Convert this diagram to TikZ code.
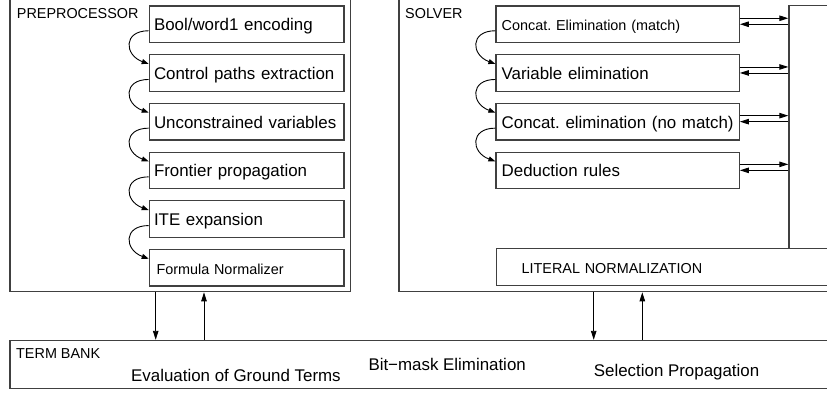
\documentclass[tikz,border=0pt]{standalone}
\usepackage{fontspec}
\setmainfont{Liberation Sans}
\usetikzlibrary{arrows.meta, positioning}
\frenchspacing

\newcommand{\bigtxt}{\fontsize{16.9}{20}\selectfont}
\newcommand{\smalltxt}{\fontsize{14.4}{17}\selectfont}

\begin{document}
\begin{tikzpicture}[
			x=1pt, y=1pt,
			% Frames and boxes
			group/.style={
				rectangle,
				draw=black!75,
				line width=1.2pt,
				anchor=south west,
				inner sep=0pt
			},
			stage/.style={
				rectangle,
				draw=black!75,
				line width=1.2pt,
				minimum height=36.5pt,
				text height=13pt,
				text depth=0pt,
				align=left,
				font=\bigtxt
			},
			prestage/.style={stage, text width=185.3pt, inner xsep=4.7pt},
			solstage/.style={stage, text width=232pt, inner xsep=5.65pt},
			caption/.style={anchor=base west, inner sep=0pt},
			% Arrows
			arrow/.style={
				-{Triangle[length=9pt, width=5.5pt]},
				line width=0.9pt
			},
			handoff/.style={
				-{Triangle[length=7pt, width=5pt]},
				line width=0.9pt,
				out=180, in=160, looseness=2
			}
			]
			
			\useasboundingbox (0,0) rectangle (827,392);
			\clip (0,0) rectangle (827,392);
			
			% Outer frames
			\node[group, minimum width=340.7pt, minimum height=291.8pt] (pre) at (9.3,99.7) {};
			\node[group, minimum width=436.7pt, minimum height=291.8pt] (sol) at (398.3,99.7) {};
			\node[group, minimum width=825.7pt, minimum height=48.3pt] (bank) at (9.3,2.7) {};
			
			\node[caption, font=\smalltxt] (prelabel) at (16.7,373) {PREPROCESSOR};
			\node[caption, font=\smalltxt] (sollabel) at (405,373) {SOLVER};
			\node[caption, font=\smalltxt] (banklabel) at (16,33.3) {TERM BANK};
			\node[caption, font=\bigtxt] (ground) at (131,10.3) {Evaluation of Ground Terms};
			\node[caption, font=\bigtxt] (bitmask) at (368.3,21.3) {Bit−mask Elimination};
			\node[caption, font=\bigtxt] (select) at (593.7,15.3) {Selection Propagation};
			
			% Preprocessor stages
			\node[prestage, anchor=north west] (bool) at (148.7,386.6) {Bool/word1 encoding};
			\node[prestage, below=11pt of bool] (paths) {Control paths extraction};
			\node[prestage, below=11pt of paths] (uncons) {Unconstrained variables};
			\node[prestage, below=11pt of uncons] (frontier) {Frontier propagation};
			\node[prestage, below=11pt of frontier] (ite) {ITE expansion};
			\node[prestage, below=11pt of ite, font=\smalltxt] (normal) {\hspace*{2.5pt}Formula Normalizer};
			
			% Solver stages
			\node[solstage, anchor=north west, font=\smalltxt] (match) at (495.4,386.6) {Concat. Elimination (match)};
			\node[solstage, below=11pt of match] (varelim) {Variable elimination};
			\node[solstage, below=11pt of varelim] (nomatch) {\mbox{Concat. elimination (no match)}};
			\node[solstage, below=11pt of nomatch] (deduce) {Deduction rules};
			
			\node[group, minimum width=46.7pt, minimum height=243pt] (bus) at (788.3,143) {};
			\node[group, minimum height=36.8pt, text width=289pt, inner xsep=25pt,
				text height=13pt, text depth=0pt, align=left, font=\smalltxt] (literal) at (496,106.3) {LITERAL NORMALIZATION};
			
			% Stage order
			\draw[handoff] ([yshift=-6.5pt]bool.west) to ([yshift=9pt]paths.west);
			\draw[handoff] ([yshift=-6.5pt]paths.west) to ([yshift=9pt]uncons.west);
			\draw[handoff] ([yshift=-6.5pt]uncons.west) to ([yshift=9pt]frontier.west);
			\draw[handoff] ([yshift=-6.5pt]frontier.west) to ([yshift=9pt]ite.west);
			\draw[handoff] ([yshift=-6.5pt]ite.west) to ([yshift=9pt]normal.west);
			
			\draw[handoff] ([yshift=-6.5pt]match.west) to ([yshift=9pt]varelim.west);
			\draw[handoff] ([yshift=-6.5pt]varelim.west) to ([yshift=9pt]nomatch.west);
			\draw[handoff] ([yshift=-6.5pt]nomatch.west) to ([yshift=9pt]deduce.west);
			
			% Solver stages <-> bus
			\draw[arrow] ([yshift=6pt]match.east) -- ([yshift=6pt]match.east -| bus.west);
			\draw[arrow] (match.east -| bus.west) -- (match.east);
			\draw[arrow] ([yshift=6pt]varelim.east) -- ([yshift=6pt]varelim.east -| bus.west);
			\draw[arrow] (varelim.east -| bus.west) -- (varelim.east);
			\draw[arrow] ([yshift=6pt]nomatch.east) -- ([yshift=6pt]nomatch.east -| bus.west);
			\draw[arrow] (nomatch.east -| bus.west) -- (nomatch.east);
			\draw[arrow] ([yshift=6pt]deduce.east) -- ([yshift=6pt]deduce.east -| bus.west);
			\draw[arrow] (deduce.east -| bus.west) -- (deduce.east);
			
			% Term bank links
			\draw[arrow] (pre.south -| 155.7,0) -- (bank.north -| 155.7,0);
			\draw[arrow] (bank.north -| 204,0) -- (pre.south -| 204,0);
			\draw[arrow] (sol.south -| 593.7,0) -- (bank.north -| 593.7,0);
			\draw[arrow] (bank.north -| 642.3,0) -- (sol.south -| 642.3,0);
			
		\end{tikzpicture}
\end{document}
